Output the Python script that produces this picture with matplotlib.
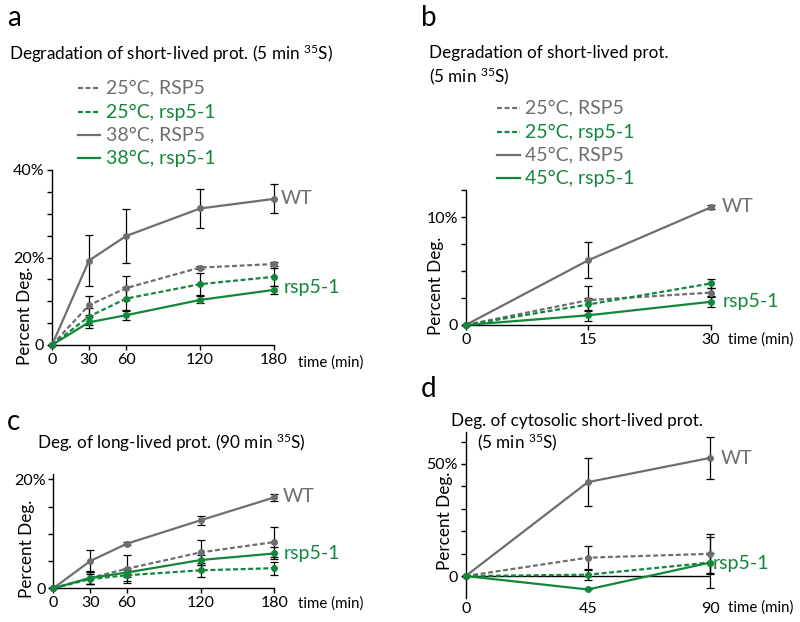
import matplotlib
matplotlib.use("Agg")
import matplotlib.pyplot as plt

plt.rcParams['font.family'] = ['Lato', 'DejaVu Sans']
plt.rcParams['mathtext.fontset'] = 'custom'
plt.rcParams['mathtext.rm'] = 'Lato'

GRAY = '#6d6e71'
GREEN = '#12873a'

# ---------------- data ----------------
# Panel a: short-lived prot., 38°C
a_time = [0, 30, 60, 120, 180]
a_25_RSP5 = [0, 9.1, 13.0, 17.7, 18.5]
a_25_RSP5_err = [0, 2.2, 2.7, 0.3, 0.5]
a_25_rsp51 = [0, 6.5, 10.6, 13.9, 15.6]
a_25_rsp51_err = [0, 2.0, 2.6, 2.5, 2.0]
a_38_RSP5 = [0, 19.3, 24.9, 31.2, 33.4]
a_38_RSP5_err = [0, 5.8, 6.1, 4.4, 3.3]
a_38_rsp51 = [0, 5.2, 6.8, 10.3, 12.6]
a_38_rsp51_err = [0, 1.3, 1.0, 0.8, 0.9]
a_xticks = [0, 30, 60, 120, 180]

# Panel b: short-lived prot., 45°C
b_time = [0, 15, 30]
b_25_RSP5 = [0, 2.3, 3.0]
b_25_RSP5_err = [0, 1.3, 0.4]
b_25_rsp51 = [0, 1.9, 3.85]
b_25_rsp51_err = [0, 0.6, 0.4]
b_45_RSP5 = [0, 6.0, 10.9]
b_45_RSP5_err = [0, 1.65, 0.2]
b_45_rsp51 = [0, 0.9, 2.15]
b_45_rsp51_err = [0, 0.5, 0.5]
b_xticks = [0, 15, 30]

# Panel c: long-lived prot.
c_time = [0, 30, 60, 120, 180]
c_25_RSP5 = [0, 1.9, 3.6, 6.6, 8.5]
c_25_RSP5_err = [0, 1.1, 2.6, 2.3, 2.8]
c_25_rsp51 = [0, 1.7, 2.4, 3.3, 3.7]
c_25_rsp51_err = [0, 0.9, 1.0, 1.3, 1.2]
c_38_RSP5 = [0, 5.0, 8.2, 12.5, 16.7]
c_38_RSP5_err = [0, 2.0, 0.3, 0.8, 0.7]
c_38_rsp51 = [0, 1.9, 2.9, 5.2, 6.4]
c_38_rsp51_err = [0, 1.2, 0.9, 0.9, 1.1]

# Panel d: cytosolic short-lived prot.
d_time = [0, 45, 90]
d_25_RSP5 = [0, 8.2, 9.9]
d_25_RSP5_err = [0, 5.2, 9.0]
d_25_rsp51 = [0, 0.6, 6.0]
d_25_rsp51_err = [0, 2.2, 4.5]
d_38_RSP5 = [0, 41.9, 52.7]
d_38_RSP5_err = [0, 10.6, 9.3]
d_38_rsp51 = [0, -6.0, 6.0]
d_38_rsp51_err = [0, 0.0, 11.5]
d_xticks = [0, 45, 90]

W, H = 800, 622
fig = plt.figure(figsize=(W / 100, H / 100), dpi=100)

TITLE_FS = 12.3
LEG_FS = 14
LAB_FS = 14
TICK_FS = 11.5
YLAB_FS = 12.3
TIME_FS = 10.8


def ax_px(x0, x1, y_bottom, y_top):
    return fig.add_axes([x0 / W, 1 - y_bottom / H, (x1 - x0) / W, (y_bottom - y_top) / H])


def ftext(x, y, s, **kw):
    kw.setdefault('fontsize', 11)
    kw.setdefault('va', 'center')
    fig.text(x / W, 1 - y / H, s, **kw)


def series(ax, x, y, e, color, ls):
    ax.errorbar(x, y, yerr=e, color=color, ls=ls, lw=1.6, marker='o', ms=4,
                mfc=color, mec=color, ecolor='black', elinewidth=0.9,
                capsize=2.6, capthick=0.9, dashes=(2.2, 1.2) if ls == '--' else (None, None),
                zorder=3, clip_on=False)


def style(ax):
    for s in ['top', 'right']:
        ax.spines[s].set_visible(False)
    for s in ['left', 'bottom']:
        ax.spines[s].set_linewidth(1.0)
    ax.tick_params(direction='out', length=3.5, width=1.0, labelsize=TICK_FS, pad=2)


def plot4(ax, x, s1, e1, s2, e2, s3, e3, s4, e4):
    series(ax, x, s1, e1, GRAY, '--')
    series(ax, x, s2, e2, GREEN, '--')
    series(ax, x, s3, e3, GRAY, '-')
    series(ax, x, s4, e4, GREEN, '-')


def legend(x_line0, x_line1, x_text, ys, labels):
    cols = [GRAY, GREEN, GRAY, GREEN]
    lss = ['--', '--', '-', '-']
    for y, lab, c, ls in zip(ys, labels, cols, lss):
        fig.add_artist(plt.Line2D([x_line0 / W, x_line1 / W], [1 - y / H, 1 - y / H],
                                  color=c, lw=1.6, dashes=(2.2, 1.2) if ls == '--' else (None, None)))
        ftext(x_text, y, lab, color=c, fontsize=LEG_FS)


def pct_labels(ticks, shown):
    return [('0' if t == 0 else f'{t:g}%') if t in shown else '' for t in ticks]


# ---------------- panel a ----------------
ax = ax_px(52, 274, 345, 170)
plot4(ax, a_time, a_25_RSP5, a_25_RSP5_err, a_25_rsp51, a_25_rsp51_err,
      a_38_RSP5, a_38_RSP5_err, a_38_rsp51, a_38_rsp51_err)
ax.set_xlim(0, 180)
ax.set_ylim(0, 40)
ya = [0, 5, 10, 15, 20, 25, 30, 35, 40]
ax.set_yticks(ya)
ax.set_yticklabels(pct_labels(ya, [0, 20, 40]))
ax.set_xticks(a_xticks)
style(ax)
ftext(7, 18, 'a', fontsize=20)
ftext(9, 54, r'Degradation of short-lived prot. (5 min $\mathregular{^{35}}$S)', fontsize=TITLE_FS)
legend(78, 100, 106, [88, 112, 135, 158],
       ['25°C, RSP5', '25°C, rsp5-1', '38°C, RSP5', '38°C, rsp5-1'])
ftext(281, 199, 'WT', color=GRAY, fontsize=LAB_FS)
ftext(284, 288, 'rsp5-1', color=GREEN, fontsize=LAB_FS)
ftext(25, 316, 'Percent Deg.', rotation=90, ha='center', fontsize=YLAB_FS)
ftext(298, 363, 'time (min)', fontsize=TIME_FS)

# ---------------- panel b ----------------
ax = ax_px(465.7, 711, 325, 190)
plot4(ax, b_time, b_25_RSP5, b_25_RSP5_err, b_25_rsp51, b_25_rsp51_err,
      b_45_RSP5, b_45_RSP5_err, b_45_rsp51, b_45_rsp51_err)
ax.set_xlim(0, 30)
ax.set_ylim(0, 12.5)
yb = [0, 2.5, 5, 7.5, 10, 12.5]
ax.set_yticks(yb)
ax.set_yticklabels(pct_labels(yb, [0, 10]))
ax.set_xticks(b_xticks)
style(ax)
ftext(421, 18, 'b', fontsize=20)
ftext(429, 53, 'Degradation of short-lived prot.', fontsize=TITLE_FS)
ftext(429, 76, r'(5 min $\mathregular{^{35}}$S)', fontsize=TITLE_FS)
legend(497, 520, 525, [108, 132, 155, 178],
       ['25°C, RSP5', '25°C, rsp5-1', '45°C, RSP5', '45°C, rsp5-1'])
ftext(722, 207, 'WT', color=GRAY, fontsize=LAB_FS)
ftext(723, 302, 'rsp5-1', color=GREEN, fontsize=LAB_FS)
ftext(436, 286, 'Percent Deg.', rotation=90, ha='center', fontsize=YLAB_FS)
ftext(728, 340, 'time (min)', fontsize=TIME_FS)

# ---------------- panel c ----------------
ax = ax_px(53.3, 274.3, 588.3, 474)
plot4(ax, c_time, c_25_RSP5, c_25_RSP5_err, c_25_rsp51, c_25_rsp51_err,
      c_38_RSP5, c_38_RSP5_err, c_38_rsp51, c_38_rsp51_err)
ax.set_xlim(0, 180)
ax.set_ylim(0, 21)
yc = [0, 5, 10, 15, 20]
ax.set_yticks(yc)
ax.set_yticklabels(pct_labels(yc, [0, 20]))
ax.set_xticks(a_xticks)
style(ax)
ftext(7, 422, 'c', fontsize=20)
ftext(37, 443, r'Deg. of long-lived prot. (90 min $\mathregular{^{35}}$S)', fontsize=TITLE_FS)
ftext(283, 497, 'WT', color=GRAY, fontsize=LAB_FS)
ftext(284, 553, 'rsp5-1', color=GREEN, fontsize=LAB_FS)
ftext(27, 549, 'Percent Deg.', rotation=90, ha='center', fontsize=YLAB_FS)
ftext(298, 604, 'time (min)', fontsize=TIME_FS)

# ---------------- panel d ----------------
ax = ax_px(465.7, 710, 598, 431.7)
ax.plot([0, 90], [0, 0], color='black', lw=1.0, zorder=2)
plot4(ax, d_time, d_25_RSP5, d_25_RSP5_err, d_25_rsp51, d_25_rsp51_err,
      d_38_RSP5, d_38_RSP5_err, d_38_rsp51, d_38_rsp51_err)
ax.set_xlim(0, 90)
ax.set_ylim(-9.8, 64.4)
yd = [0, 10, 20, 30, 40, 50, 60]
ax.set_yticks(yd)
ax.set_yticklabels(pct_labels(yd, [0, 50]))
ax.set_xticks(d_xticks)
style(ax)
ax.spines['bottom'].set_visible(False)
ax.tick_params(axis='x', length=0, pad=3)
ftext(421, 389, 'd', fontsize=20)
ftext(451, 421, 'Deg. of cytosolic short-lived prot.', fontsize=TITLE_FS)
ftext(477, 442, r'(5 min $\mathregular{^{35}}$S)', fontsize=TITLE_FS)
ftext(721, 458, 'WT', color=GRAY, fontsize=LAB_FS)
ftext(713, 563, 'rsp5-1', color=GREEN, fontsize=LAB_FS)
ftext(445, 521, 'Percent Deg.', rotation=90, ha='center', fontsize=YLAB_FS)
ftext(728, 608, 'time (min)', fontsize=TIME_FS)

fig.savefig('out.png', dpi=100)
